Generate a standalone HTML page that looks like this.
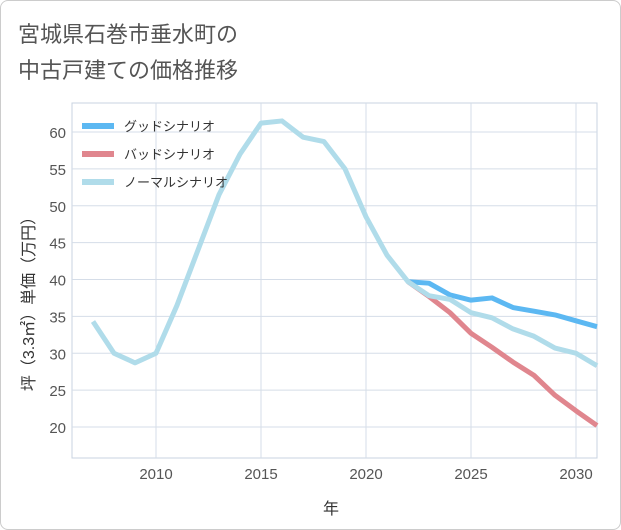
<!DOCTYPE html>
<html><head><meta charset="utf-8"><style>
body{margin:0;background:#fff;font-family:"Liberation Sans","Noto Sans CJK JP",sans-serif;}
#wrap{position:relative;width:619px;height:528px;border:1px solid #ccc;border-radius:8px;background:#fff;}
</style></head><body>
<div id="wrap">
<svg id="chart" width="621" height="530" style="position:absolute;left:-1px;top:-1px">
<text x="18" y="42" font-size="22" fill="#555">宮城県石巻市垂水町の</text>
<text x="18" y="78" font-size="22" fill="#555">中古戸建ての価格推移</text>
<g id="grid"></g><g id="series"></g><g id="legend"></g>
<text x="331" y="514" font-size="16" fill="#333" text-anchor="middle">年</text>
<text transform="translate(34,300) rotate(-90)" font-size="16" fill="#333" text-anchor="middle">坪（3.3㎡）単価（万円）</text>
</svg></div>
<script>
const years=[2007,2008,2009,2010,2011,2012,2013,2014,2015,2016,2017,2018,2019,2020,2021,2022,2023,2024,2025,2026,2027,2028,2029,2030,2031];
const normalVals=[34.3,30,28.7,30,36.5,44,51.5,57,61.2,61.5,59.3,58.7,55,48.5,43.3,39.7,37.8,37.3,35.5,34.8,33.3,32.3,30.7,30,28.3];
const futYears=[2022,2023,2024,2025,2026,2027,2028,2029,2030,2031];
const goodVals=[39.7,39.5,37.9,37.2,37.5,36.2,35.7,35.2,34.4,33.6];
const badVals=[39.7,37.7,35.5,32.7,30.8,28.8,27,24.3,22.2,20.2];
const xTicks=[2010,2015,2020,2025,2030];
const yTicks=[20,25,30,35,40,45,50,55,60];
const L=72,R=597,T=103,B=458;
const x=y=>156+(y-2010)*21;
const yS=v=>427-(v-20)*7.375;
const NS="http://www.w3.org/2000/svg";
function mk(tag,attrs,parent){const e=document.createElementNS(NS,tag);for(const k in attrs)e.setAttribute(k,attrs[k]);parent.appendChild(e);return e;}
const g=document.getElementById('grid');
let r=mk('rect',{x:L,y:T,width:R-L,height:B-T,fill:'#fff',stroke:'#c8d3e0'},g);


for(let yr=2007;yr<=2031;yr++){}
xTicks.forEach(t=>{
 const l=mk('line',{x1:x(t),x2:x(t),y1:T,y2:B,stroke:'#d5dde8'},g);
 
 
 const tx=mk('text',{x:x(t),y:B+21,'font-size':15,fill:'#555','text-anchor':'middle'},g);tx.textContent=t;
 
 
});
yTicks.forEach(t=>{
 const l=mk('line',{x1:L,x2:R,y1:yS(t),y2:yS(t),stroke:'#d5dde8'},g);
 
 
 const tx=mk('text',{x:L-6,y:yS(t)+6,'font-size':15,fill:'#555','text-anchor':'end'},g);tx.textContent=t;
 
 
});
const s=document.getElementById('series');
function line(xs,vs,color,name){
 const p=mk('polyline',{points:xs.map((yr,i)=>x(yr)+','+yS(vs[i])).join(' '),fill:'none',stroke:color,'stroke-width':5,'stroke-linejoin':'round'},s);
 
 
}
line(futYears,goodVals,'#5cb8f2','good-scenario-line');
line(futYears,badVals,'#e0868e','bad-scenario-line');
line(years,normalVals,'#b0dcea','normal-scenario-line');
const lg=document.getElementById('legend');
[['グッドシナリオ','#5cb8f2'],['バッドシナリオ','#e0868e'],['ノーマルシナリオ','#b0dcea']].forEach((d,i)=>{
 const yy=126+i*28;
 const l=mk('line',{x1:82,x2:114,y1:yy,y2:yy,stroke:d[1],'stroke-width':6},lg);
 
 
 const t=mk('text',{x:124,y:yy+5,'font-size':13,fill:'#333'},lg);t.textContent=d[0];
 
 
});
</script>
</body></html>
